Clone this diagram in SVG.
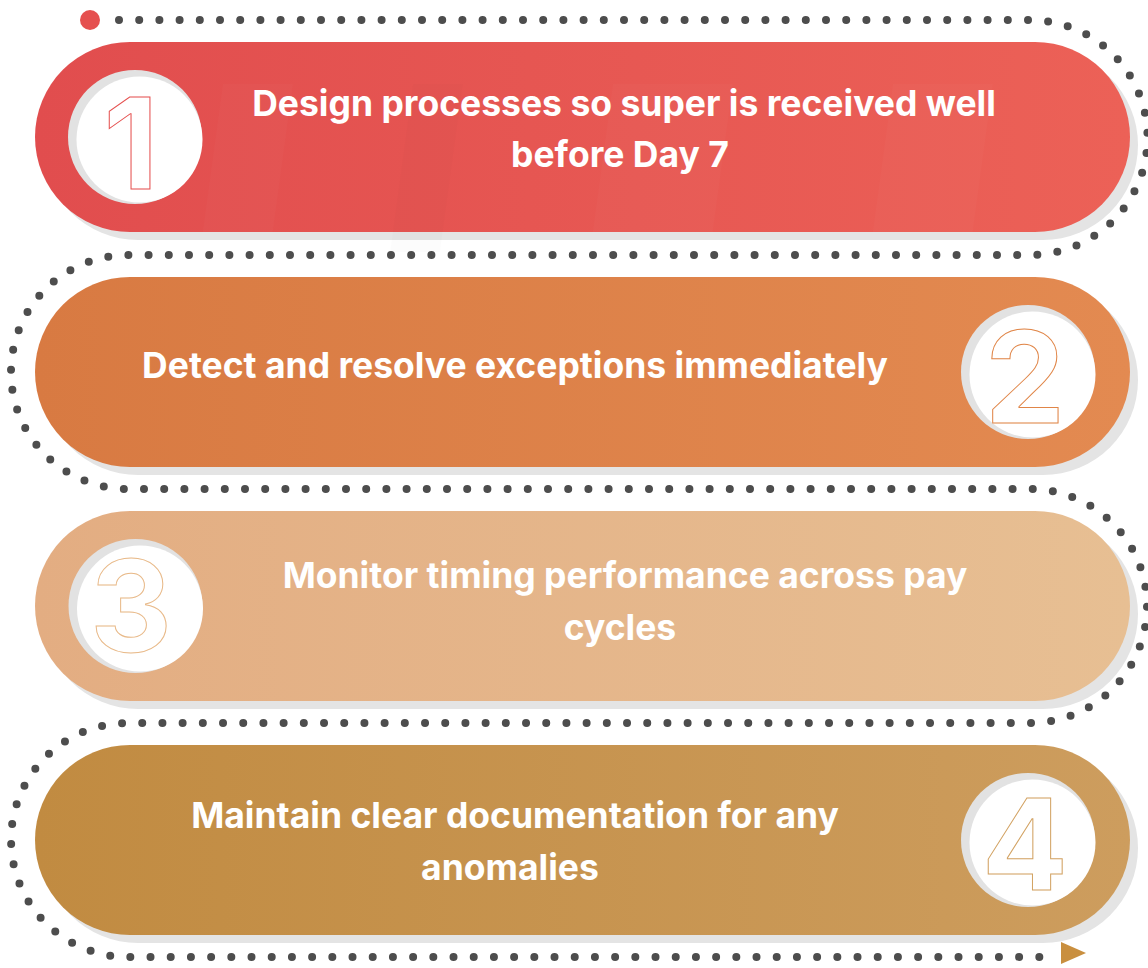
<svg xmlns="http://www.w3.org/2000/svg" width="1148" height="968" viewBox="0 0 1148 968">
  <defs>
    <linearGradient id="g1" x1="0" y1="0" x2="1" y2="0">
      <stop offset="0" stop-color="#e14d4e"/>
      <stop offset="1" stop-color="#ec6157"/>
    </linearGradient>
    <linearGradient id="g2" x1="0" y1="0" x2="1" y2="0">
      <stop offset="0" stop-color="#d87a42"/>
      <stop offset="1" stop-color="#e38a51"/>
    </linearGradient>
    <linearGradient id="g3" x1="0" y1="0" x2="1" y2="0">
      <stop offset="0" stop-color="#e3ad82"/>
      <stop offset="1" stop-color="#e7bf93"/>
    </linearGradient>
    <linearGradient id="g4" x1="0" y1="0" x2="1" y2="0">
      <stop offset="0" stop-color="#c18b41"/>
      <stop offset="1" stop-color="#cd9d5e"/>
    </linearGradient>
    <!-- faint diagonal sheen bands laid over each pill -->
    <g id="sheen">
      <polygon points="230,-10 300,-10 270,210 200,210" fill="#ffffff" opacity="0.02"/>
      <polygon points="420,-10 470,-10 440,210 390,210" fill="#000000" opacity="0.012"/>
      <polygon points="620,-10 740,-10 710,210 590,210" fill="#ffffff" opacity="0.02"/>
      <polygon points="900,-10 1000,-10 970,210 870,210" fill="#ffffff" opacity="0.02"/>
    </g>
  </defs>
  <style>
    .shadow { fill: #e4e4e4; }
    .ring { fill: #e2e2e2; }
    .hole { fill: #ffffff; }
    .label { font-family: Inter, "Liberation Sans", sans-serif; font-weight: 700; font-size: 35.5px; fill: #ffffff; text-anchor: middle; }
    .digit { font-family: Inter, "Liberation Sans", sans-serif; font-weight: 700; font-size: 127px; fill: #ffffff; stroke-width: 1; text-anchor: middle; }
    .track { fill: none; stroke: #4d4d4d; stroke-width: 8; stroke-linecap: round; stroke-dasharray: 0 20.2; }
  </style>

  <!-- dotted track winding around the steps -->
  <g id="connectors">
    <path class="track" d="M 119 20 H 1030 A 117.5 117.5 0 0 1 1030 255 H 128 A 117 117 0 0 0 128 489 H 1030 A 117 117 0 0 1 1030 723 H 128 A 117 117 0 0 0 128 957 H 1045"/>
    <circle cx="90" cy="20" r="10" fill="#e5504f"/>
    <polygon points="1061,942 1086,953 1061,964" fill="#c98f3f"/>
  </g>

  <!-- step 1 -->
  <g id="step1">
    <rect class="shadow" x="43" y="50" width="1095" height="190" rx="95"/>
    <clipPath id="c1"><rect x="35" y="42" width="1095" height="190" rx="95"/></clipPath>
    <rect x="35" y="42" width="1095" height="190" rx="95" fill="url(#g1)"/>
    <use href="#sheen" y="42" clip-path="url(#c1)"/>
    <circle class="ring" cx="135" cy="137" r="67"/>
    <circle class="hole" cx="139.5" cy="139.5" r="63"/>
    <text class="digit" x="131" y="189" stroke="#e5504f">1</text>
    <text class="label" x="624" y="116">Design processes so super is received well</text>
    <text class="label" x="620" y="167">before Day 7</text>
  </g>

  <!-- step 2 -->
  <g id="step2">
    <rect class="shadow" x="43" y="285" width="1095" height="190" rx="95"/>
    <clipPath id="c2"><rect x="35" y="277" width="1095" height="190" rx="95"/></clipPath>
    <rect x="35" y="277" width="1095" height="190" rx="95" fill="url(#g2)"/>
    <use href="#sheen" y="277" clip-path="url(#c2)"/>
    <circle class="ring" cx="1028" cy="372" r="67"/>
    <circle class="hole" cx="1032.5" cy="374.5" r="63"/>
    <text class="digit" x="1025" y="423" stroke="#e08547">2</text>
    <text class="label" x="515" y="378">Detect and resolve exceptions immediately</text>
  </g>

  <!-- step 3 -->
  <g id="step3">
    <rect class="shadow" x="43" y="519" width="1095" height="190" rx="95"/>
    <clipPath id="c3"><rect x="35" y="511" width="1095" height="190" rx="95"/></clipPath>
    <rect x="35" y="511" width="1095" height="190" rx="95" fill="url(#g3)"/>
    <use href="#sheen" y="511" clip-path="url(#c3)"/>
    <circle class="ring" cx="135.5" cy="606" r="67"/>
    <circle class="hole" cx="140" cy="608.5" r="63"/>
    <text class="digit" x="131" y="652" stroke="#e8b988">3</text>
    <text class="label" x="625" y="588">Monitor timing performance across pay</text>
    <text class="label" x="620" y="640">cycles</text>
  </g>

  <!-- step 4 -->
  <g id="step4">
    <rect class="shadow" x="43" y="753" width="1095" height="190" rx="95"/>
    <clipPath id="c4"><rect x="35" y="745" width="1095" height="190" rx="95"/></clipPath>
    <rect x="35" y="745" width="1095" height="190" rx="95" fill="url(#g4)"/>
    <use href="#sheen" y="745" clip-path="url(#c4)"/>
    <circle class="ring" cx="1028" cy="840" r="67"/>
    <circle class="hole" cx="1032.5" cy="842.5" r="63"/>
    <text class="digit" x="1025" y="890" stroke="#d2a262">4</text>
    <text class="label" x="515" y="828">Maintain clear documentation for any</text>
    <text class="label" x="510" y="880">anomalies</text>
  </g>
</svg>
